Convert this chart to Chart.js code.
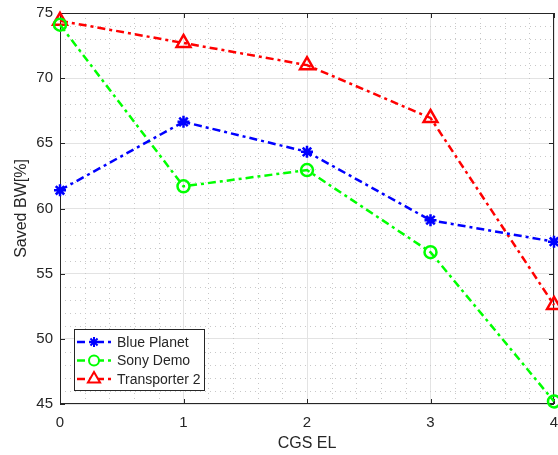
<!DOCTYPE html>
<html>
<head>
<meta charset="utf-8">
<script src="https://cdn.jsdelivr.net/npm/chart.js@4.4.1/dist/chart.umd.min.js"></script>
<style>
  html, body { margin: 0; padding: 0; background: #fff; }
  #wrap { width: 558px; height: 455px; }
</style>
</head>
<body>
<div id="wrap"><canvas id="myChart"></canvas></div>
<script>
const cgsLevels = [0, 1, 2, 3, 4];
const bluePlanet = [61.4, 66.65, 64.35, 59.1, 57.45];
const sonyDemo = [74.1, 61.7, 62.95, 56.65, 45.2];
const transporter2 = [74.4, 72.7, 71.0, 66.95, 52.6];
const seriesNames = ['Blue Planet', 'Sony Demo', 'Transporter 2'];
const yTicks = [45, 50, 55, 60, 65, 70, 75];

const dashDot = [8, 4, 3, 4];
const axisColor = '#262626';

function toPoints(vals) {
  return cgsLevels.map((x, i) => ({ x: x, y: vals[i] }));
}

// minor dotted grid, box and inward tick marks, matlab style
const matlabAxes = {
  id: 'matlabAxes',
  beforeDatasetsDraw(chart) {
    const c = chart.ctx, a = chart.chartArea;
    const xs = chart.scales.x, ys = chart.scales.y;
    c.save();
    c.lineWidth = 1;
    c.strokeStyle = '#c8c8c8';
    c.setLineDash([1, 4]);
    for (let v = xs.min; v <= xs.max + 1e-9; v += 0.2) {
      if (Math.abs(v - Math.round(v)) < 1e-6) continue;
      const px = Math.round(xs.getPixelForValue(v)) + 0.5;
      c.beginPath(); c.moveTo(px, a.top); c.lineTo(px, a.bottom); c.stroke();
    }
    for (let v = ys.min; v <= ys.max; v += 1) {
      if (v % 5 === 0) continue;
      const py = Math.round(ys.getPixelForValue(v)) + 0.5;
      c.beginPath(); c.moveTo(a.left, py); c.lineTo(a.right, py); c.stroke();
    }
    c.setLineDash([]);
    c.strokeStyle = axisColor;
    const tl = 5;
    c.beginPath();
    cgsLevels.forEach(v => {
      const px = Math.round(xs.getPixelForValue(v)) + 0.5;
      c.moveTo(px, a.bottom); c.lineTo(px, a.bottom - tl);
      c.moveTo(px, a.top); c.lineTo(px, a.top + tl);
    });
    yTicks.forEach(v => {
      const py = Math.round(ys.getPixelForValue(v)) + 0.5;
      c.moveTo(a.left, py); c.lineTo(a.left + tl, py);
      c.moveTo(a.right, py); c.lineTo(a.right - tl, py);
    });
    c.stroke();
    c.strokeRect(Math.round(a.left) + 0.5, Math.round(a.top) + 0.5,
      Math.round(a.right - a.left) - 1, Math.round(a.bottom - a.top) - 1);
    c.restore();
  },
  afterDraw(chart) {
    // legend box in lower left
    const c = chart.ctx, a = chart.chartArea;
    const bx = a.left + 14, by = a.bottom - 75, bw = 130, bh = 61;
    c.save();
    c.fillStyle = '#fff';
    c.fillRect(bx, by, bw, bh);
    c.strokeStyle = axisColor;
    c.lineWidth = 1;
    c.strokeRect(bx + 0.5, by + 0.5, bw, bh);
    c.font = '14px "Liberation Sans", Arial, sans-serif';
    c.textBaseline = 'middle';
    chart.data.datasets.forEach((ds, i) => {
      const ry = by + 13 + i * 18.5;
      c.strokeStyle = ds.borderColor;
      c.lineWidth = 2.5;
      c.setLineDash(dashDot);
      c.beginPath(); c.moveTo(bx + 3, ry); c.lineTo(bx + 39, ry); c.stroke();
      c.setLineDash([]);
      c.fillStyle = ds.pointBackgroundColor === 'rgba(0,0,0,0)' ? '#fff' : ds.borderColor;
      c.lineWidth = 2;
      Chart.helpers.drawPoint(c, {
        pointStyle: ds.pointStyle, radius: ds.pointRadius - 1, borderWidth: 2, rotation: 0
      }, bx + 20, ry);
      c.fillStyle = axisColor;
      c.fillText(ds.label, bx + 43, ry + 1);
    });
    c.restore();
  }
};

const mk = (label, vals, color, style, radius) => ({
  label: label,
  data: toPoints(vals),
  borderColor: color,
  backgroundColor: color,
  borderWidth: 2.5,
  borderDash: dashDot,
  pointStyle: style,
  pointRadius: radius,
  pointBorderWidth: 2.5,
  pointBackgroundColor: style === 'star' ? color : 'rgba(0,0,0,0)',
  pointBorderColor: color,
  tension: 0,
  clip: false
});

new Chart(document.getElementById('myChart'), {
  type: 'line',
  data: {
    datasets: [
      mk(seriesNames[0], bluePlanet, '#0000ff', 'star', 6),
      mk(seriesNames[1], sonyDemo, '#00ff00', 'circle', 6),
      mk(seriesNames[2], transporter2, '#ff0000', 'triangle', 8)
    ]
  },
  plugins: [matlabAxes],
  options: {
    responsive: true,
    maintainAspectRatio: false,
    animation: false,
    layout: { autoPadding: false, padding: { top: 13, right: 4, left: 0, bottom: 0 } },
    plugins: { legend: { display: false }, tooltip: { enabled: false } },
    scales: {
      x: {
        type: 'linear', min: 0, max: 4,
        afterFit(s) { s.height = 51; s.paddingLeft = 0; s.paddingRight = 0; },
        afterBuildTicks(s) { s.ticks = cgsLevels.map(v => ({ value: v })); },
        ticks: { color: axisColor, padding: 10, font: { family: 'Liberation Sans', size: 15 } },
        grid: { color: '#e3e3e3', drawTicks: false },
        border: { display: false },
        title: {
          display: true, text: 'CGS EL', color: axisColor,
          font: { family: 'Liberation Sans', size: 16 }, padding: { top: 2, bottom: 2 }
        }
      },
      y: {
        min: 45, max: 75,
        afterFit(s) { s.width = 60; s.paddingTop = 0; s.paddingBottom = 0; },
        afterBuildTicks(s) { s.ticks = yTicks.map(v => ({ value: v })); },
        ticks: { color: axisColor, padding: 7, font: { family: 'Liberation Sans', size: 15 } },
        grid: { color: '#e3e3e3', drawTicks: false },
        border: { display: false },
        title: {
          display: true, text: 'Saved BW[%]', color: axisColor,
          font: { family: 'Liberation Sans', size: 16 }, padding: { top: 12, bottom: 2 }
        }
      }
    }
  }
});
</script>
</body>
</html>
